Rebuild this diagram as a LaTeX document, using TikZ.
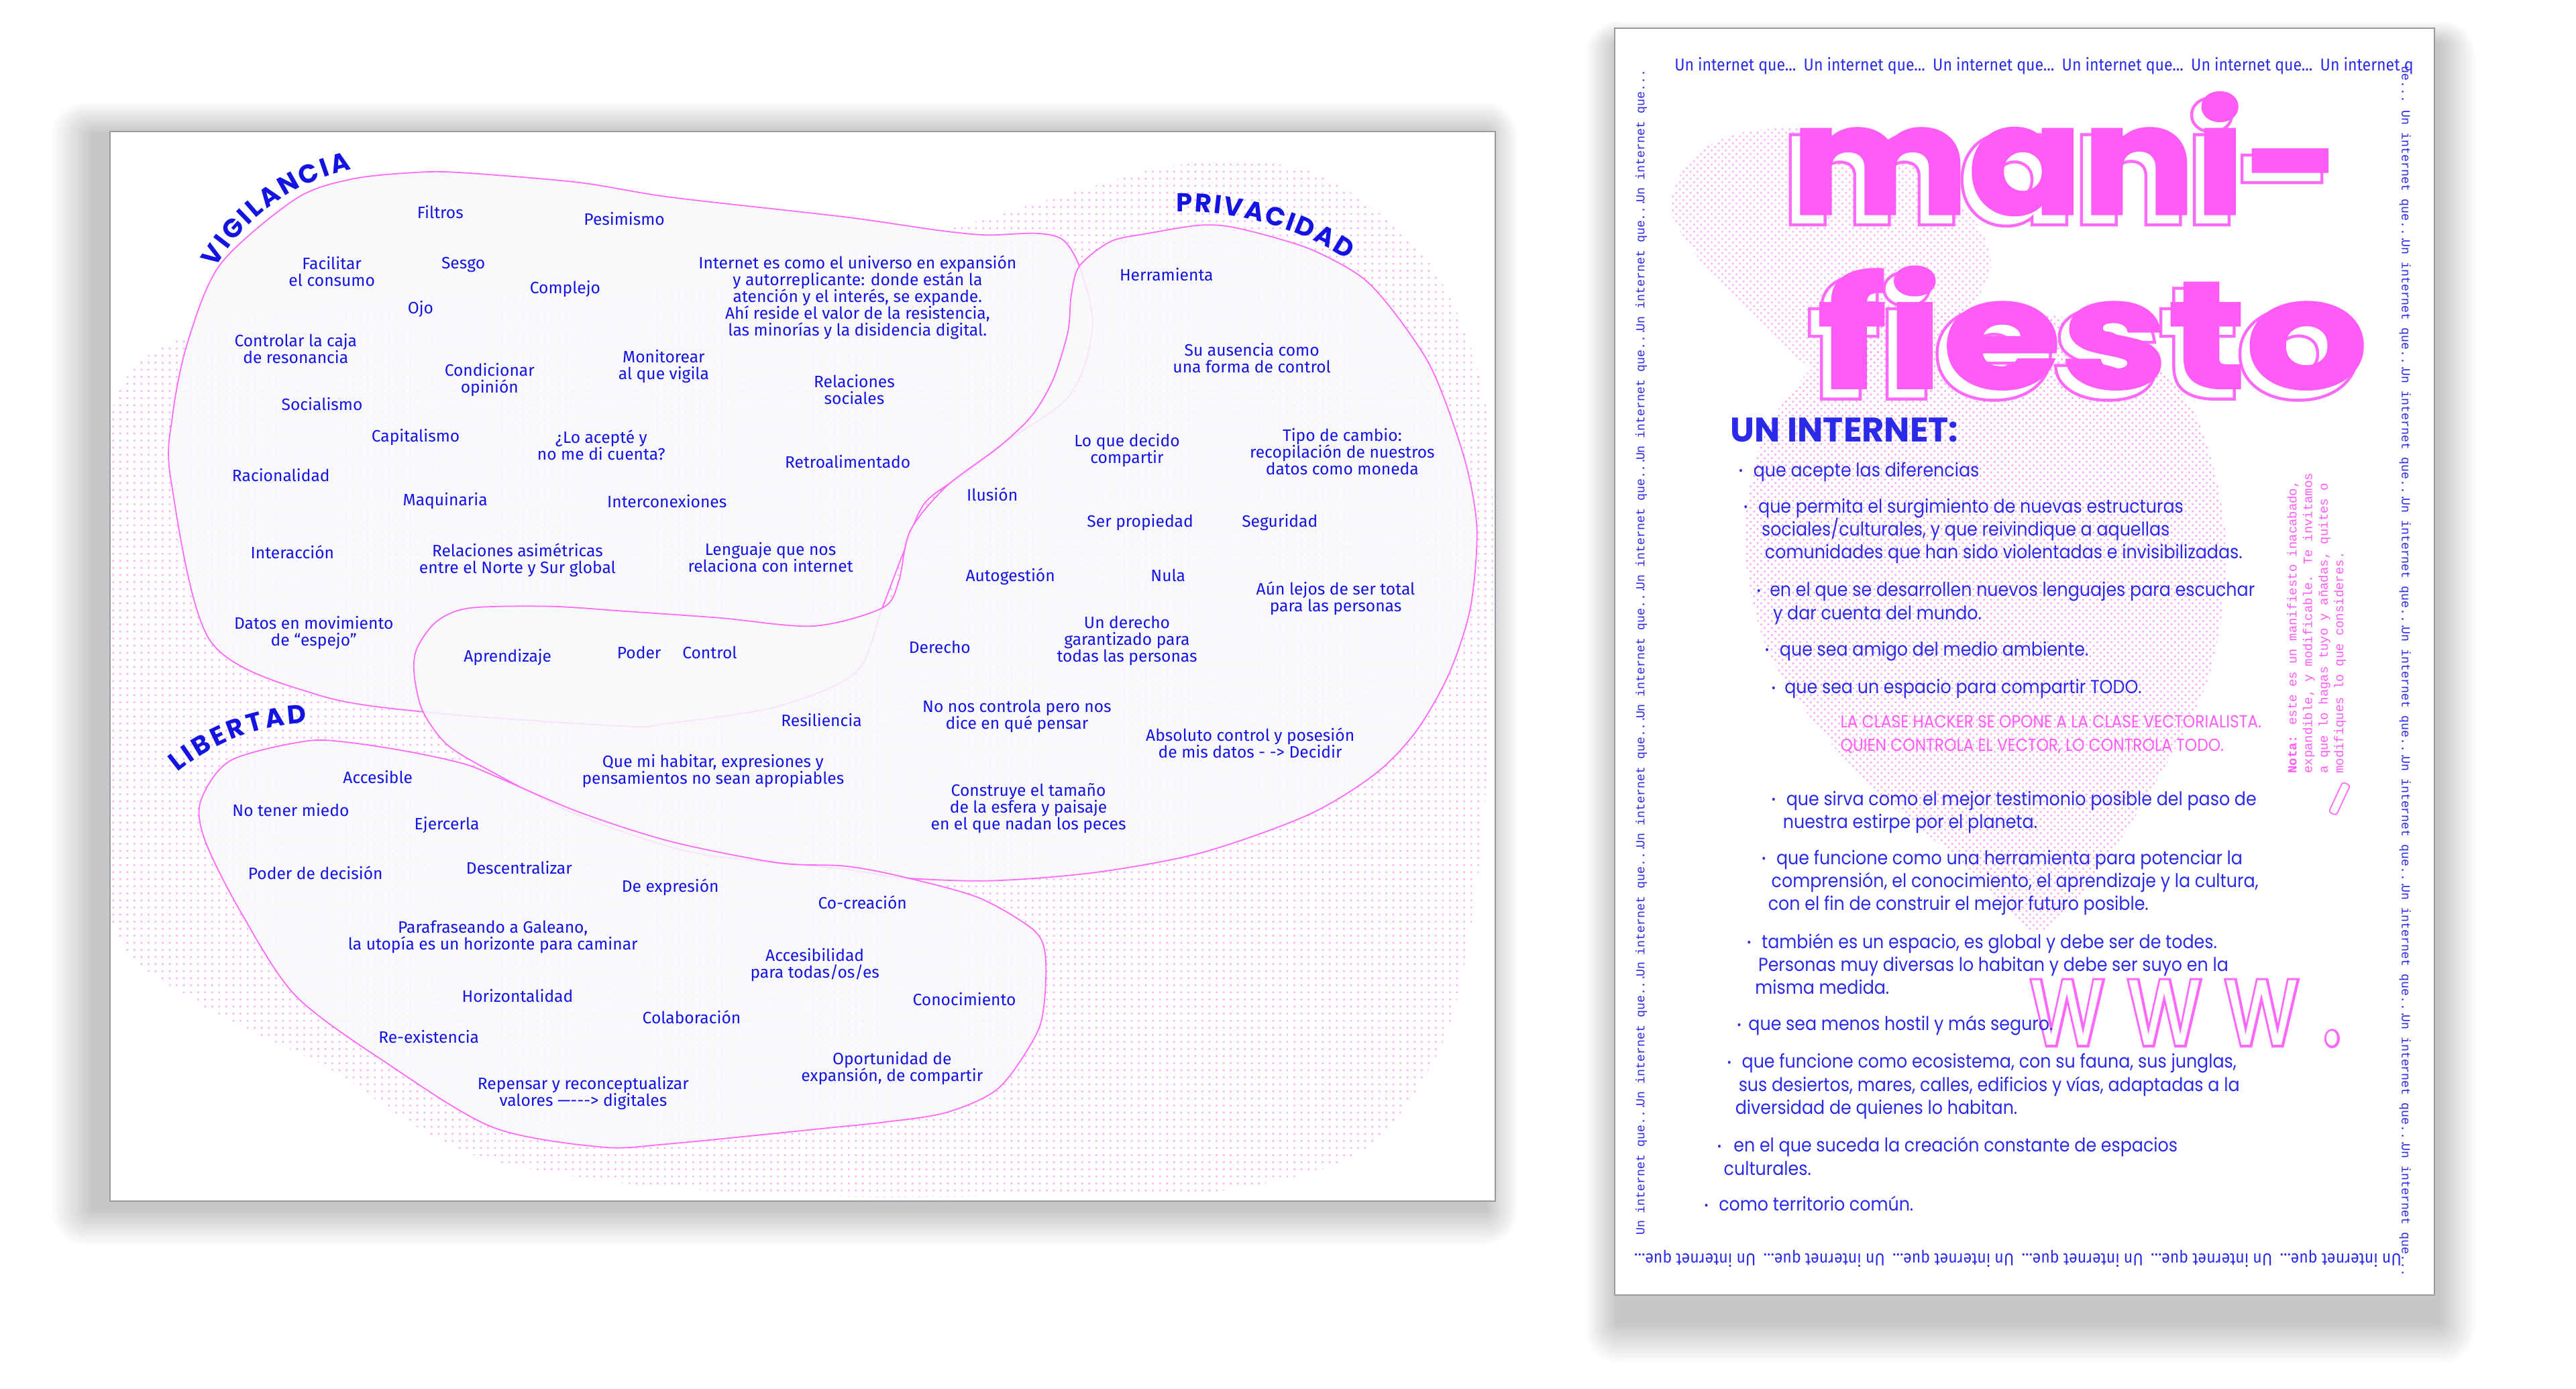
\documentclass[tikz,border=0pt]{standalone}
\usepackage{fontspec}
\setmainfont{Fira Sans}
\newfontfamily\handf{Fira Sans}
\newfontfamily\popf{Poppins}[FakeStretch=0.9]
\newfontfamily\popw{Poppins}
\newfontfamily\titm{Poppins}[FakeStretch=1.11,FakeBold=2]
\newfontfamily\titmo{Poppins}[FakeStretch=1.11,FakeBold=6]
\newfontfamily\titf{Poppins}[FakeStretch=1.27,FakeBold=2]
\newfontfamily\titfo{Poppins}[FakeStretch=1.27,FakeBold=6]
\newfontfamily\wwwf{Poppins}[FakeStretch=0.75,LetterSpace=21]
\newfontfamily\wwwfo{Poppins}[FakeStretch=0.75,LetterSpace=21,FakeBold=4]
\newfontfamily\monof{Liberation Mono}
\newfontfamily\condf{Fira Sans}[FakeStretch=0.9]
\usetikzlibrary{patterns,decorations.text}
\definecolor{labblue}{RGB}{20,20,226}
\definecolor{bodyblue}{RGB}{42,42,232}
\definecolor{pinkline}{RGB}{255,105,250}
\definecolor{pinkfill}{RGB}{255,92,245}
\definecolor{dotpink}{RGB}{255,178,247}
\definecolor{dotpinkb}{RGB}{255,165,246}
\definecolor{blobfill}{RGB}{248,249,251}
\definecolor{framegray}{RGB}{150,156,162}
\begin{document}
\begin{tikzpicture}[x=0.02449cm,y=-0.02449cm,
  lab/.style={font=\handf\fontsize{7}{7.1}\selectfont,text=labblue,align=center,inner sep=0pt},
  blob/.style={draw=pinkline,line width=0.5pt,fill=blobfill,fill opacity=0.85},
  body/.style={font=\popf\fontsize{8}{9.6}\selectfont,text=bodyblue,anchor=base west,inner sep=0pt},
  bul/.style={font=\popf\fontsize{5}{5}\selectfont,text=bodyblue,anchor=base west,inner sep=0pt},
  hack/.style={font=\popf\fontsize{7.4}{7.4}\selectfont,text=pinkfill,anchor=base west,inner sep=0pt},
  titsty/.style={anchor=base west,inner sep=0pt},
  rowsty/.style={font=\condf\fontsize{7.3}{7.3}\selectfont,text=bodyblue,anchor=base west,inner sep=0pt},
  colsty/.style={font=\monof\fontsize{5.2}{5.2}\selectfont,text=bodyblue,anchor=base west,inner sep=0pt}
]
\useasboundingbox (0,0) rectangle (1568,845);
\fill[white] (0,0) rectangle (1568,845);

% soft shadows
\foreach \i in {1,...,14}{
  \fill[black,opacity=0.016,rounded corners=\i pt] (57-1.8*\i,82-1.4*\i) rectangle (904+1.4*\i,735+1.6*\i);
  \fill[black,opacity=0.016,rounded corners=\i pt] (985-1.4*\i,27-1.0*\i) rectangle (1484+1.6*\i,804+1.8*\i);
}

% panels
\draw[framegray,fill=white,line width=0.6pt] (67,80) rectangle (910,731);
\draw[framegray,fill=white,line width=0.6pt] (983,17) rectangle (1482,788);

% ---------- left panel ----------
\begin{scope}
\clip (67,80) rectangle (910,731);
\fill[pattern=dots,pattern color=dotpink] plot[smooth cycle] coordinates {
 (68,250) (110,205) (200,185) (300,180) (420,175) (540,150) (650,118) (720,100) (800,105) (870,160)
 (905,250) (908,400) (900,530) (880,630) (830,700) (740,725) (620,728) (500,728) (380,720) (280,700)
 (200,650) (120,610) (68,560) (62,400)};
\end{scope}

% VIGILANCIA blob
\path[blob] plot[smooth cycle] coordinates {
 (134,161) (180,121) (214,109) (252,105) (280,105) (352,111) (408,120) (514,132) (570,140) (600,143)
 (631,142) (647,146) (657,162) (665,194) (660,223) (647,245) (612,269) (589,287) (563,306) (550,336)
 (537,370) (521,409) (473,430) (408,440) (381,442) (266,434) (194,423) (128,390) (104,292) (105,253) (114,209)};
% PRIVACIDAD blob
\path[blob] plot[smooth cycle] coordinates {
 (657,162) (676,147) (699,142) (731,137) (754,139) (796,151) (828,168) (847,188) (868,218) (880,245)
 (893,285) (899,323) (895,370) (882,410) (862,445) (837,471) (796,496) (731,519) (666,531) (602,536)
 (547,534) (515,529) (423,519) (352,496) (300,470) (272,453) (257,432) (252,409) (254,394) (266,378)
 (286,370) (335,369) (381,372) (438,376) (495,381) (537,370) (547,354) (554,323) (576,296) (608,272)
 (628,253) (641,231) (650,202) (652,180)};
% LIBERTAD blob
\path[blob] plot[smooth cycle] coordinates {
 (122,488) (140,463) (186,451) (214,452) (252,458) (283,465) (303,473) (352,494) (408,512) (473,525)
 (514,527) (547,533) (595,546) (628,565) (636,579) (636,606) (631,629) (608,662) (576,677) (537,683)
 (508,686) (408,696) (366,698) (300,686) (237,648) (180,606) (146,554) (125,512)};

% curved titles
\path[decorate,decoration={text along path,text={|\popw\bfseries\fontsize{11}{11}\selectfont|VIGILANCIA},text color=labblue,text align=fit to path}]
  (131,163) .. controls (150,132) and (178,111) .. (214,103);
\path[decorate,decoration={text along path,text={|\popw\bfseries\fontsize{11}{11}\selectfont|PRIVACIDAD},text color=labblue,text align=fit to path}]
  (716,129) .. controls (750,128) and (790,138) .. (820,158);
\path[decorate,decoration={text along path,text={|\popw\bfseries\fontsize{11}{11}\selectfont|LIBERTAD},text color=labblue,text align=fit to path}]
  (108,470) .. controls (130,452) and (155,442) .. (187,440);

% labels
\node[lab] (filtros) at (268,129) {Filtros};
\node[lab] (pesim) at (380,133) {Pesimismo};
\node[lab] (facil) at (202,165) {Facilitar\\el consumo};
\node[lab] (sesgo) at (282,161) {Sesgo};
\node[lab] (complejo) at (344,176) {Complejo};
\node[lab] (univ) at (522,181) {Internet es como el universo en expansión\\y autorreplicante: donde están la\\atención y el interés, se expande.\\Ahí reside el valor de la resistencia,\\las minorías y la disidencia digital.};
\node[lab] (ojo) at (256,188) {Ojo};
\node[lab] (caja) at (180,212) {Controlar la caja\\de resonancia};
\node[lab] (condic) at (298,231) {Condicionar\\opinión};
\node[lab] (monit) at (404,223) {Monitorear\\al que vigila};
\node[lab] (relsoc) at (520,237) {Relaciones\\sociales};
\node[lab] (social) at (196,246) {Socialismo};
\node[lab] (capital) at (253,266) {Capitalismo};
\node[lab] (acepte) at (366,271) {¿Lo acepté y\\no me di cuenta?};
\node[lab] (retro) at (516,281) {Retroalimentado};
\node[lab] (racion) at (171,289) {Racionalidad};
\node[lab] (maquin) at (271,305) {Maquinaria};
\node[lab] (interc) at (406,305) {Interconexiones};
\node[lab] (interac) at (178,336) {Interacción};
\node[lab] (asim) at (315,341) {Relaciones asimétricas\\entre el Norte y Sur global};
\node[lab] (lenguaje) at (469,339) {Lenguaje que nos\\relaciona con internet};
\node[lab] (datos) at (191,385) {Datos en movimiento\\de “espejo”};
\node[lab] (aprend) at (309,400) {Aprendizaje};
\node[lab] (poder) at (389,397) {Poder};
\node[lab] (control) at (432,397) {Control};
\node[lab] (herram) at (710,167) {Herramienta};
\node[lab] (ausencia) at (762,218) {Su ausencia como\\una forma de control};
\node[lab] (decido) at (686,274) {Lo que decido\\compartir};
\node[lab] (tipo) at (817,275) {Tipo de cambio:\\recopilación de nuestros\\datos como moneda};
\node[lab] (ilusion) at (604,301) {Ilusión};
\node[lab] (propied) at (694,318) {Ser propiedad};
\node[lab] (segur) at (779,318) {Seguridad};
\node[lab] (autog) at (615,351) {Autogestión};
\node[lab] (nula) at (711,350) {Nula};
\node[lab] (lejos) at (813,364) {Aún lejos de ser total\\para las personas};
\node[lab] (underecho) at (686,390) {Un derecho\\garantizado para\\todas las personas};
\node[lab] (derecho) at (572,394) {Derecho};
\node[lab] (resil) at (500,438) {Resiliencia};
\node[lab] (nonos) at (619,436) {No nos controla pero nos\\dice en qué pensar};
\node[lab] (absol) at (761,452) {Absoluto control y posesión\\de mis datos - -> Decidir};
\node[lab] (habitar) at (434,469) {Que mi habitar, expresiones y\\pensamientos no sean apropiables};
\node[lab] (esfera) at (626,492) {Construye el tamaño\\de la esfera y paisaje\\en el que nadan los peces};
\node[lab] (accesible) at (230,473) {Accesible};
\node[lab] (miedo) at (177,493) {No tener miedo};
\node[lab] (ejerc) at (272,502) {Ejercerla};
\node[lab] (decision) at (192,531) {Poder de decisión};
\node[lab] (descen) at (316,528) {Descentralizar};
\node[lab] (expres) at (408,540) {De expresión};
\node[lab] (cocrea) at (525,549) {Co-creación};
\node[lab] (galeano) at (300,570) {Parafraseando a Galeano,\\la utopía es un horizonte para caminar};
\node[lab] (accesib) at (496,587) {Accesibilidad\\para todas/os/es};
\node[lab] (horiz) at (315,606) {Horizontalidad};
\node[lab] (conoc) at (587,608) {Conocimiento};
\node[lab] (colab) at (421,619) {Colaboración};
\node[lab] (reex) at (261,631) {Re-existencia};
\node[lab] (oport) at (543,650) {Oportunidad de\\expansión, de compartir};
\node[lab] (repensar) at (355,665) {Repensar y reconceptualizar\\valores —---> digitales};

% ---------- right panel ----------
\fill[pattern=crosshatch dots,pattern color=dotpink] plot[smooth cycle] coordinates {
 (1017,128) (1028,98) (1055,82) (1100,78) (1150,92) (1195,125) (1212,160) (1195,192) (1160,212) (1112,228) (1075,200) (1040,165)};
\fill[pattern=crosshatch dots,pattern color=dotpinkb] plot[smooth cycle] coordinates {
 (1195,188) (1280,200) (1335,250) (1355,330) (1345,410) (1310,480) (1270,540) (1238,567) (1200,530)
 (1130,470) (1078,400) (1062,330) (1075,262) (1120,210)};

% border texts
\foreach \i in {0,...,4}{
  \node[rowsty] (top\i) at (1019+78.6*\i,43) {Un internet que...};
}
\node[rowsty] (top5) at (1412,43) {Un internet q};
\foreach \i in {0,...,5}{
  \node[rowsty,rotate=180] (bot\i) at (1462-78.6*\i,763) {Un internet que...};
}
\foreach \i in {0,...,8}{
  \node[colsty,rotate=90] (lc\i) at (1001,752-78.6*\i) {Un internet que...};
  \node[colsty,rotate=-90] (rc\i) at (1462,67+78.6*\i) {Un internet que...};
}
\node[colsty,rotate=-90] (rcfirst) at (1462,40) {ue...};

% title with outlined shadow
\node[titsty,font=\titmo\bfseries\fontsize{64}{64}\selectfont,text=pinkline] (mshline) at (1085,135) {mani-};
\node[titsty,font=\titfo\bfseries\fontsize{64}{64}\selectfont,text=pinkline] (fshline) at (1101,241) {fiesto};
\node[titsty,font=\titm\bfseries\fontsize{64}{64}\selectfont,text=white] (mshadow) at (1085,135) {mani-};
\node[titsty,font=\titf\bfseries\fontsize{64}{64}\selectfont,text=white] (fshadow) at (1101,241) {fiesto};
\node[titsty,font=\titm\bfseries\fontsize{64}{64}\selectfont,text=pinkfill] (mani) at (1090,130) {mani-};
\node[titsty,font=\titf\bfseries\fontsize{64}{64}\selectfont,text=pinkfill] (fiesto) at (1106,236) {fiesto};

% www.
\node[titsty,font=\wwwfo\fontsize{50}{50}\selectfont,text=pinkline] (wline) at (1236,636) {www.};
\node[titsty,font=\wwwf\fontsize{50}{50}\selectfont,text=white] (www) at (1236,636) {www.};

% note
\node[font=\monof\fontsize{5.4}{6.6}\selectfont,text=pinkfill,rotate=90,anchor=north west,align=left,inner sep=0pt] (nota) at (1392,471)
 {\textbf{Nota:} este es un manifiesto inacabado,\\expandible, y modificable. Te invitamos\\a que lo hagas tuyo y añadas, quites o\\modifiques lo que consideres.};
\node[draw=pinkline,line width=0.5pt,rounded corners=1pt,minimum width=14pt,minimum height=3.5pt,rotate=65,inner sep=0pt] (slash) at (1424,486) {};

% heading and list
\node[font=\popw\bfseries\fontsize{14.5}{14.5}\selectfont,text=bodyblue,anchor=base west,inner sep=0pt] (unint) at (1053,269) {UN INTERNET:};

\node[bul] (u1) at (1058,289) {•};
\node[body] (t1) at (1067,290) {que acepte las diferencias};
\node[bul] (u2) at (1061,311) {•};
\node[body] (t2a) at (1070,312) {que permita el surgimiento de nuevas estructuras};
\node[body] (t2b) at (1072,326) {sociales/culturales, y que reivindique a aquellas};
\node[body] (t2c) at (1074,340) {comunidades que han sido violentadas e invisibilizadas.};
\node[bul] (u3) at (1069,362) {•};
\node[body] (t3a) at (1077,363) {en el que se desarrollen nuevos lenguajes para escuchar};
\node[body] (t3b) at (1079,377) {y dar cuenta del mundo.};
\node[bul] (u4) at (1074,398) {•};
\node[body] (t4) at (1083,399) {que sea amigo del medio ambiente.};
\node[bul] (u5) at (1078,421) {•};
\node[body] (t5) at (1086,422) {que sea un espacio para compartir TODO.};
\node[hack] (h1) at (1120,443) {LA CLASE HACKER SE OPONE A LA CLASE VECTORIALISTA.};
\node[hack] (h2) at (1120,457) {QUIEN CONTROLA EL VECTOR, LO CONTROLA TODO.};
\node[bul] (u6) at (1078,489) {•};
\node[body] (t6a) at (1087,490) {que sirva como el mejor testimonio posible del paso de};
\node[body] (t6b) at (1085,504) {nuestra estirpe por el planeta.};
\node[bul] (u7) at (1072,525) {•};
\node[body] (t7a) at (1081,526) {que funcione como una herramienta para potenciar la};
\node[body] (t7b) at (1078,540) {comprensión, el conocimiento, el aprendizaje y la cultura,};
\node[body] (t7c) at (1076,554) {con el fin de construir el mejor futuro posible.};
\node[bul] (u8) at (1063,576) {•};
\node[body] (t8a) at (1072,577) {también es un espacio, es global y debe ser de todes.};
\node[body] (t8b) at (1070,591) {Personas muy diversas lo habitan y debe ser suyo en la};
\node[body] (t8c) at (1068,605) {misma medida.};
\node[bul] (u9) at (1057,626) {•};
\node[body] (t9) at (1064,627) {que sea menos hostil y más seguro.};
\node[bul] (u10) at (1051,649) {•};
\node[body] (t10a) at (1060,650) {que funcione como ecosistema, con su fauna, sus junglas,};
\node[body] (t10b) at (1058,664) {sus desiertos, mares, calles, edificios y vías, adaptadas a la};
\node[body] (t10c) at (1056,678) {diversidad de quienes lo habitan.};
\node[bul] (u11) at (1045,700) {•};
\node[body] (t11a) at (1055,701) {en el que suceda la creación constante de espacios};
\node[body] (t11b) at (1049,715) {culturales.};
\node[bul] (u12) at (1037,736) {•};
\node[body] (t12) at (1046,737) {como territorio común.};
\end{tikzpicture}
\end{document}
